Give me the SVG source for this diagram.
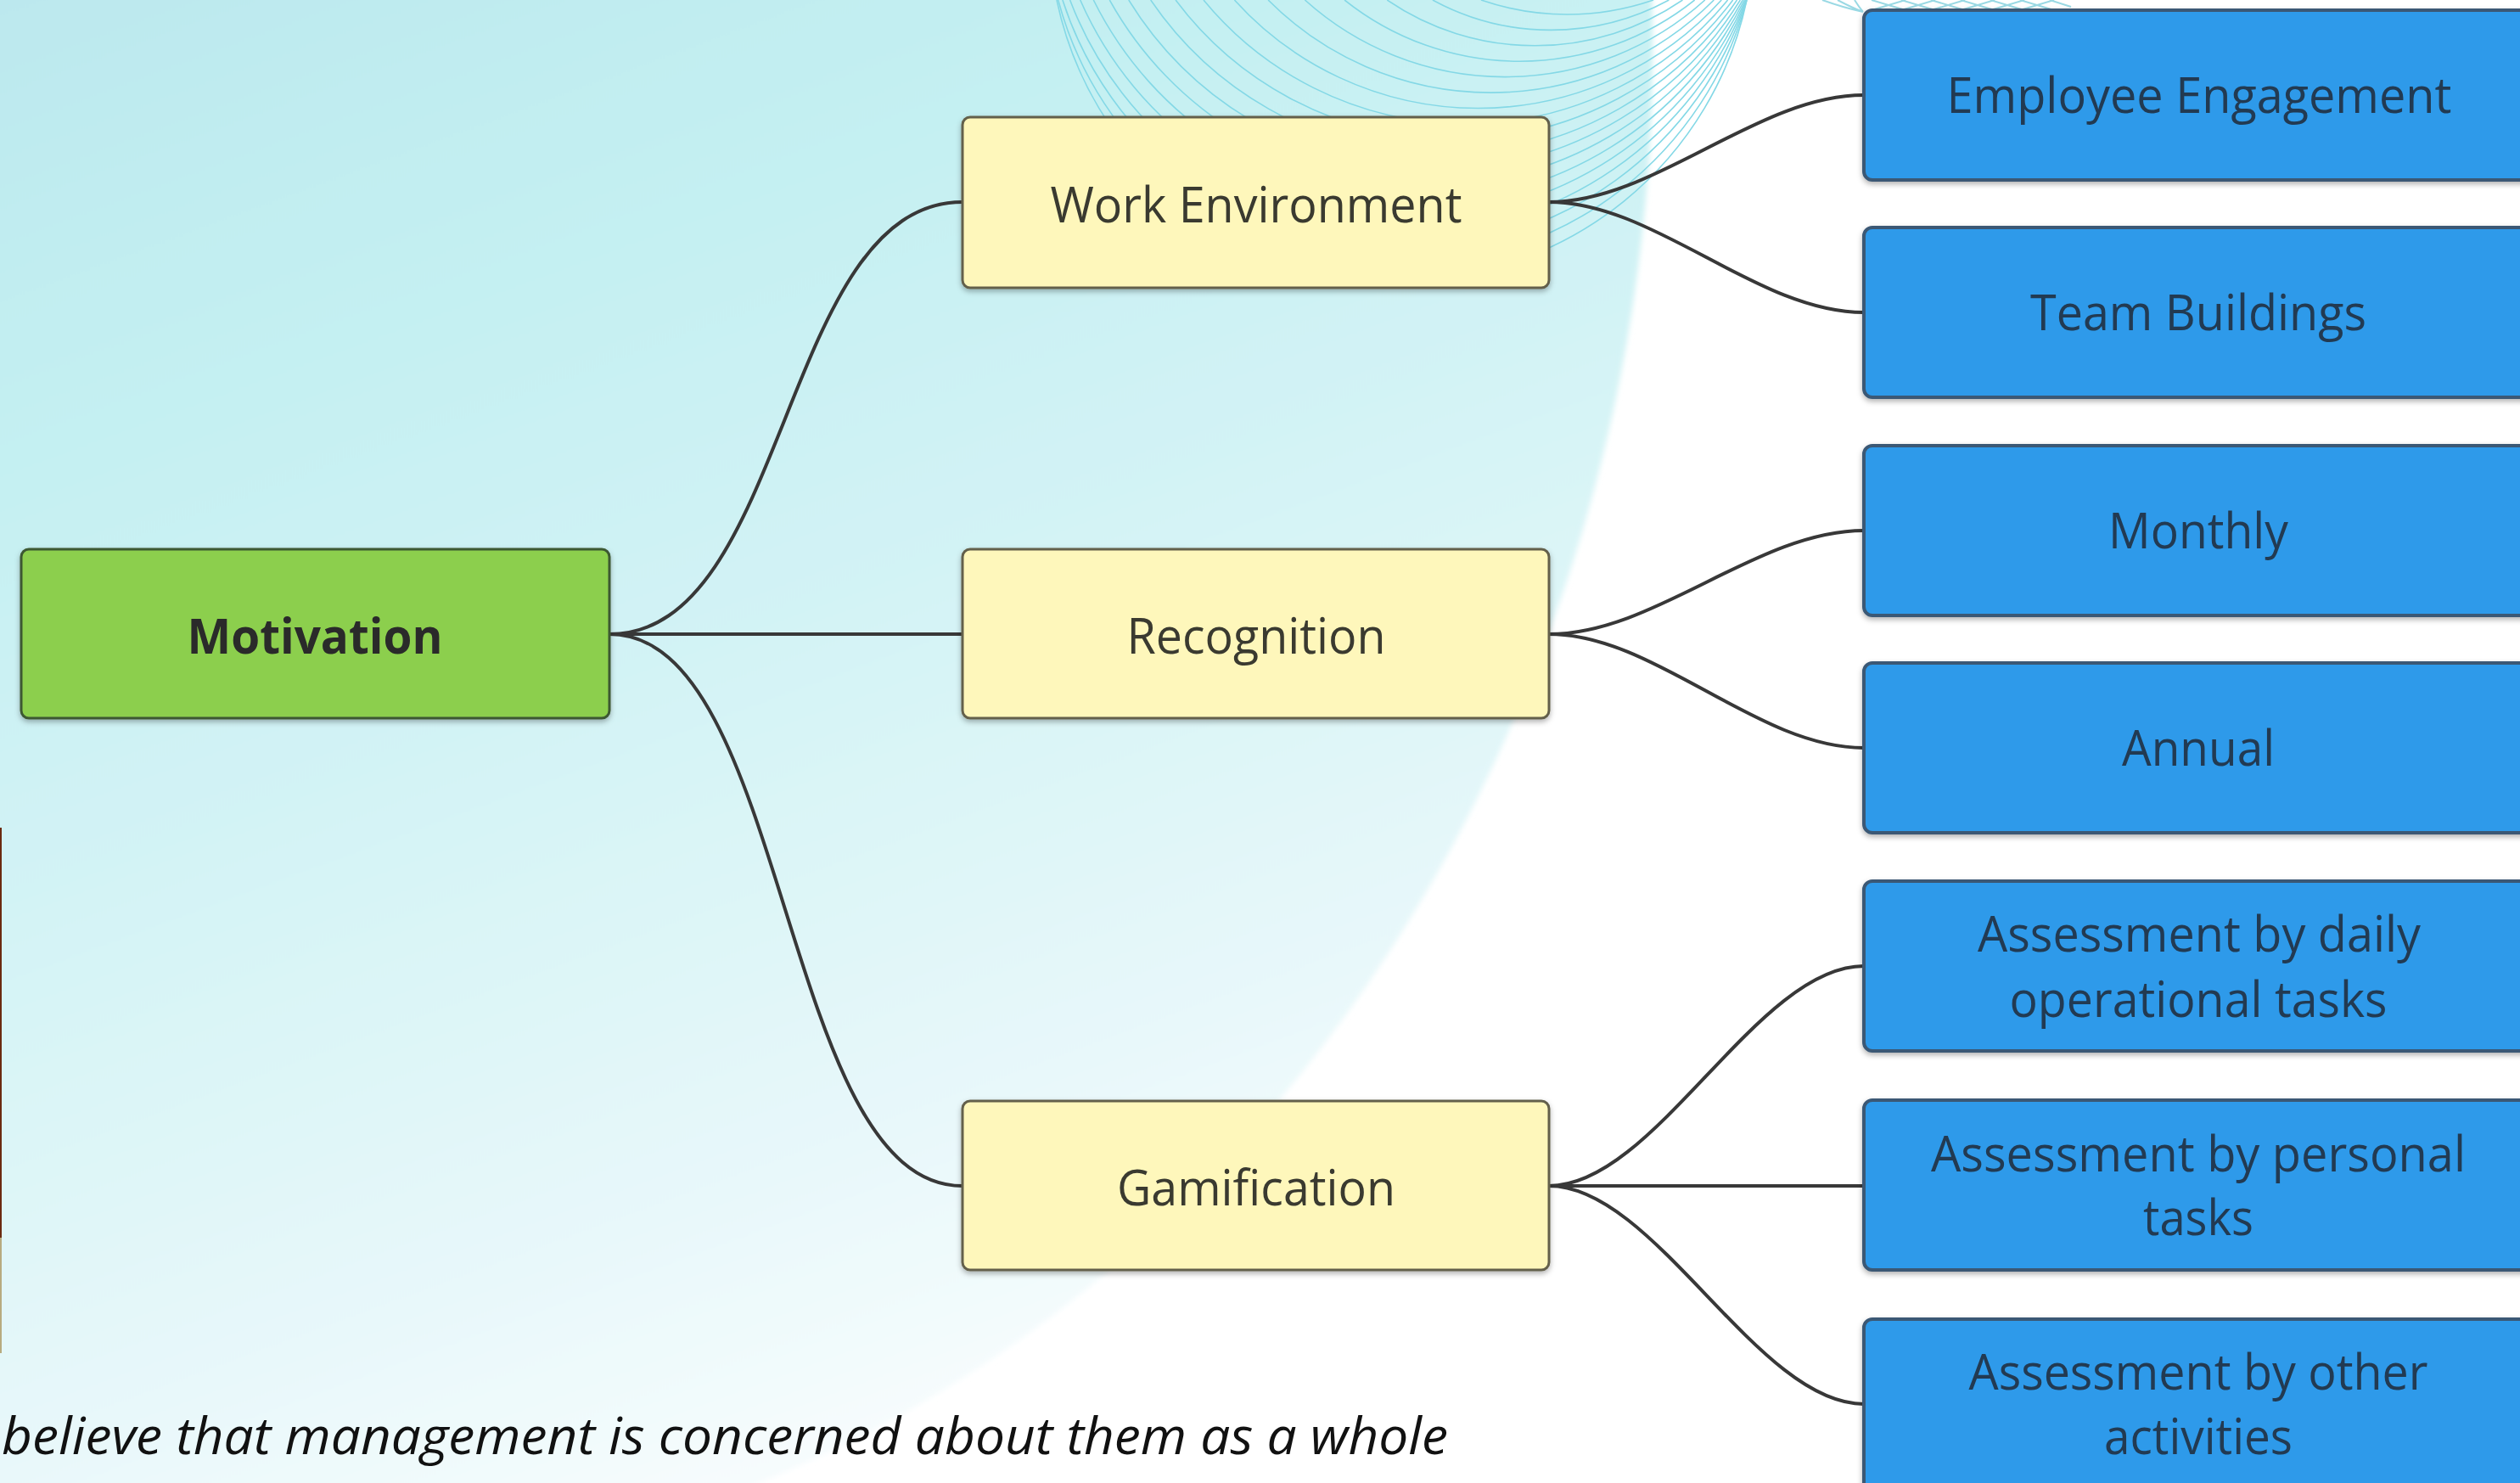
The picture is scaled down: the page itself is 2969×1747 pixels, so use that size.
<svg xmlns="http://www.w3.org/2000/svg" width="2969" height="1747" viewBox="0 0 2969 1747">
<defs>
  <linearGradient id="bgGrad" gradientUnits="userSpaceOnUse" x1="0" y1="0" x2="700" y2="1900">
    <stop offset="0" stop-color="#bce8ee"/>
    <stop offset="0.25" stop-color="#c4f0f2"/>
    <stop offset="0.5" stop-color="#d3f3f5"/>
    <stop offset="0.8" stop-color="#e8f8fa"/>
    <stop offset="1" stop-color="#fafdfe"/>
  </linearGradient>
  <filter id="soft" x="-2%" y="-2%" width="104%" height="104%">
    <feGaussianBlur stdDeviation="3"/>
  </filter>
  <filter id="shadow" x="-5%" y="-10%" width="110%" height="125%">
    <feDropShadow dx="0" dy="3" stdDeviation="3" flood-color="#000" flood-opacity="0.3"/>
  </filter>
  <style>
    .arc { fill: none; stroke: #84d8e6; stroke-width: 1.6; }
    .lat { fill: none; stroke: #9ad9e4; stroke-width: 2; }
    .conn { fill: none; stroke: #383838; stroke-width: 4; stroke-linecap: round; }
    .root rect { fill: #8ccf4d; stroke: #3d5933; stroke-width: 3; }
    .mid rect { fill: #fef7bb; stroke: #64614b; stroke-width: 3; }
    .leaf rect { fill: #2e9aea; stroke: #3b5874; stroke-width: 4; }
    text { font-family: "Open Sans", "Noto Sans", sans-serif; font-size: 58px; text-anchor: middle; }
    .root text { fill: #2a2a2a; font-weight: bold; }
    .mid text { fill: #3a3a30; }
    .leaf text { fill: #223a52; }
    .note { fill: #111; font-style: italic; font-size: 60px; text-anchor: start; }
  </style>
</defs>

<rect x="0" y="0" width="2969" height="1747" fill="#ffffff"/>
<ellipse cx="357" cy="53" rx="1590" ry="1800" fill="url(#bgGrad)" filter="url(#soft)"/>

<g id="arcs">
  <path class="arc" d="M1745 0 A311.5 311.5 0 0 0 1948 0"/>
  <path class="arc" d="M1687.9 0 A291.4 291.4 0 0 0 1966.3 0"/>
  <path class="arc" d="M1634.3 0 A308.4 308.4 0 0 0 1982.4 0"/>
  <path class="arc" d="M1584.1 0 A330.7 330.7 0 0 0 1996.6 0"/>
  <path class="arc" d="M1537.4 0 A351.9 351.9 0 0 0 2008.8 0"/>
  <path class="arc" d="M1494.1 0 A370.6 370.6 0 0 0 2019.3 0"/>
  <path class="arc" d="M1454.4 0 A386.5 386.5 0 0 0 2028.2 0"/>
  <path class="arc" d="M1418 0 A399.7 399.7 0 0 0 2035.6 0"/>
  <path class="arc" d="M1385.1 0 A410.2 410.2 0 0 0 2041.7 0"/>
  <path class="arc" d="M1355.7 0 A417.8 417.8 0 0 0 2046.5 0"/>
  <path class="arc" d="M1329.8 0 A423.2 423.2 0 0 0 2050.3 0"/>
  <path class="arc" d="M1307.3 0 A426.6 426.6 0 0 0 2053.2 0"/>
  <path class="arc" d="M1288.3 0 A427.9 427.9 0 0 0 2055.2 0"/>
  <path class="arc" d="M1272.7 0 A427.8 427.8 0 0 0 2056.6 0"/>
  <path class="arc" d="M1260.6 0 A426.2 426.2 0 0 0 2057.4 0"/>
  <path class="arc" d="M1251.9 0 A423.5 423.5 0 0 0 2057.8 0"/>
  <path class="arc" d="M1246.7 0 A419.8 419.8 0 0 0 2058 0"/>
  <path class="arc" d="M1245 0 A415.4 415.4 0 0 0 2058 0"/>
</g>

<g id="lattice">
  <path class="lat" d="M2147 0 Q2172 9 2195 14 M2165 0 Q2182 9 2195 14 M2185 0 Q2190 8 2195 14"/>
  <path class="lat" d="M2205 12 L2245 0 M2240 12 L2280 0 M2275 12 L2315 0 M2310 12 L2350 0 M2345 12 L2385 0 M2380 12 L2420 0"/>
  <path class="lat" d="M2205 0 L2245 12 M2240 0 L2280 12 M2275 0 L2315 12 M2310 0 L2350 12 M2345 0 L2385 12 M2380 0 L2420 12 M2415 0 L2440 8"/>
</g>

<g id="edge-mark">
  <line x1="1" y1="975" x2="1" y2="1458" stroke="#6b2a10" stroke-width="2"/>
  <line x1="1" y1="1458" x2="1" y2="1594" stroke="#b8ab80" stroke-width="2"/>
</g>

<g id="connectors">
  <path class="conn" d="M718 747 C930 747 920 238 1134 238"/>
  <path class="conn" d="M718 747 L1134 747"/>
  <path class="conn" d="M718 747 C930 747 920 1397 1134 1397"/>
  <path class="conn" d="M1825 238 C1950 238 2070 112 2196 112"/>
  <path class="conn" d="M1825 238 C1950 238 2070 368 2196 368"/>
  <path class="conn" d="M1825 747 C1950 747 2070 625 2196 625"/>
  <path class="conn" d="M1825 747 C1950 747 2070 881 2196 881"/>
  <path class="conn" d="M1825 1397 C1950 1397 2070 1138 2196 1138"/>
  <path class="conn" d="M1825 1397 L2196 1397"/>
  <path class="conn" d="M1825 1397 C1950 1397 2070 1654 2196 1654"/>
</g>

<g id="node-motivation" class="root">
  <rect x="25" y="647" width="693" height="199" rx="9" filter="url(#shadow)"/>
  <text x="371" y="770" textLength="301" lengthAdjust="spacingAndGlyphs">Motivation</text>
</g>

<g id="node-work-environment" class="mid">
  <rect x="1134" y="138" width="691" height="201" rx="9" filter="url(#shadow)"/>
  <text x="1480" y="262" textLength="485" lengthAdjust="spacingAndGlyphs">Work Environment</text>
</g>
<g id="node-recognition" class="mid">
  <rect x="1134" y="647" width="691" height="199" rx="9" filter="url(#shadow)"/>
  <text x="1480" y="770" textLength="305" lengthAdjust="spacingAndGlyphs">Recognition</text>
</g>
<g id="node-gamification" class="mid">
  <rect x="1134" y="1297" width="691" height="199" rx="9" filter="url(#shadow)"/>
  <text x="1480" y="1420" textLength="328" lengthAdjust="spacingAndGlyphs">Gamification</text>
</g>

<g id="node-employee-engagement" class="leaf">
  <rect x="2196" y="12" width="800" height="200" rx="10" filter="url(#shadow)"/>
  <text x="2591" y="133" textLength="595" lengthAdjust="spacingAndGlyphs">Employee Engagement</text>
</g>
<g id="node-team-buildings" class="leaf">
  <rect x="2196" y="268" width="800" height="200" rx="10" filter="url(#shadow)"/>
  <text x="2590" y="389" textLength="396" lengthAdjust="spacingAndGlyphs">Team Buildings</text>
</g>
<g id="node-monthly" class="leaf">
  <rect x="2196" y="525" width="800" height="200" rx="10" filter="url(#shadow)"/>
  <text x="2590" y="646" textLength="212" lengthAdjust="spacingAndGlyphs">Monthly</text>
</g>
<g id="node-annual" class="leaf">
  <rect x="2196" y="781" width="800" height="200" rx="10" filter="url(#shadow)"/>
  <text x="2590" y="902" textLength="180" lengthAdjust="spacingAndGlyphs">Annual</text>
</g>
<g id="node-daily" class="leaf">
  <rect x="2196" y="1038" width="800" height="200" rx="10" filter="url(#shadow)"/>
  <text x="2591" y="1121" textLength="522" lengthAdjust="spacingAndGlyphs">Assessment by daily</text>
  <text x="2590" y="1198" textLength="445" lengthAdjust="spacingAndGlyphs">operational tasks</text>
</g>
<g id="node-personal" class="leaf">
  <rect x="2196" y="1296" width="800" height="200" rx="10" filter="url(#shadow)"/>
  <text x="2590" y="1380" textLength="630" lengthAdjust="spacingAndGlyphs">Assessment by personal</text>
  <text x="2590" y="1455" textLength="130" lengthAdjust="spacingAndGlyphs">tasks</text>
</g>
<g id="node-other" class="leaf">
  <rect x="2196" y="1554" width="800" height="220" rx="10" filter="url(#shadow)"/>
  <text x="2590" y="1637" textLength="541" lengthAdjust="spacingAndGlyphs">Assessment by other</text>
  <text x="2590" y="1713" textLength="222" lengthAdjust="spacingAndGlyphs">activities</text>
</g>

<text class="note" x="2" y="1713" textLength="1704" lengthAdjust="spacingAndGlyphs">believe that management is concerned about them as a whole</text>
</svg>
